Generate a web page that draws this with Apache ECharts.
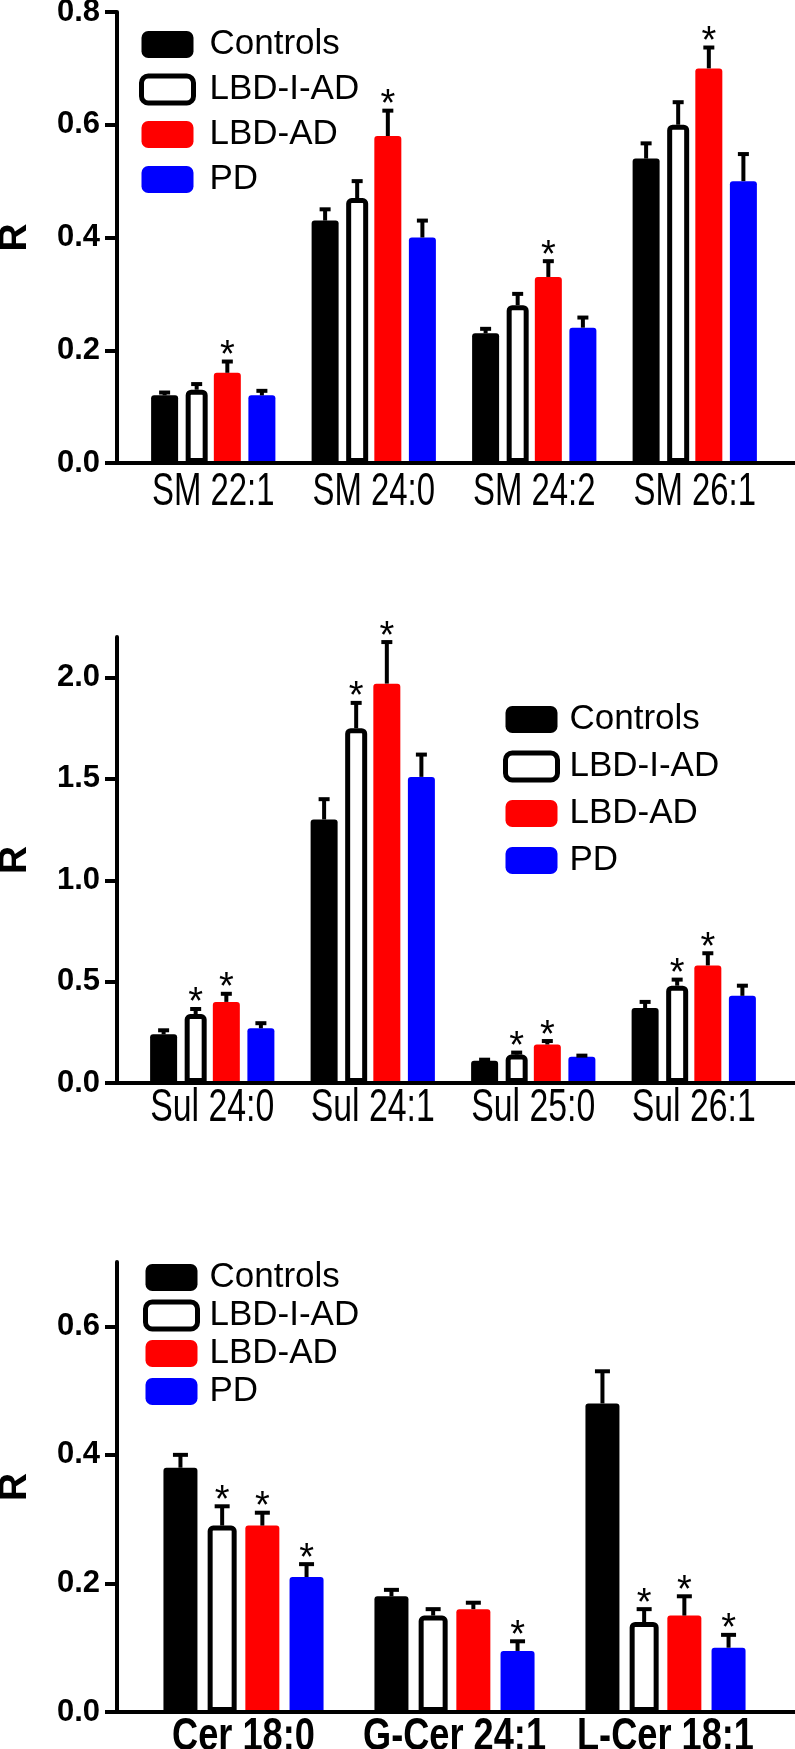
<!DOCTYPE html>
<html><head><meta charset="utf-8">
<script src="https://cdn.jsdelivr.net/npm/echarts@6/dist/echarts.min.js"></script>
<style>html,body{margin:0;padding:0;background:#fff}#c{width:795px;height:1749px}</style>
</head><body><div id="c"></div><script>
// ---------- data ----------
const groups = ['Controls', 'LBD-I-AD', 'LBD-AD', 'PD'];

const smCats = ['SM 22:1', 'SM 24:0', 'SM 24:2', 'SM 26:1'];
const smControls = [0.12, 0.43, 0.23, 0.54];
const smLbdIAd = [0.13, 0.47, 0.28, 0.60];
const smLbdAd = [0.16, 0.58, 0.33, 0.70];
const smPd = [0.12, 0.40, 0.24, 0.50];
const smControlsErr = [0.005, 0.02, 0.008, 0.027];
const smLbdIAdErr = [0.01, 0.03, 0.02, 0.04];
const smLbdAdErr = [0.02, 0.045, 0.028, 0.037];
const smPdErr = [0.008, 0.03, 0.018, 0.048];
const smControlsSig = [0, 0, 0, 0];
const smLbdIAdSig = [0, 0, 0, 0];
const smLbdAdSig = [1, 1, 1, 1];
const smPdSig = [0, 0, 0, 0];
const smTicks = [0, 0.2, 0.4, 0.6, 0.8];

const sulCats = ['Sul 24:0', 'Sul 24:1', 'Sul 25:0', 'Sul 26:1'];
const sulControls = [0.24, 1.30, 0.11, 0.37];
const sulLbdIAd = [0.34, 1.75, 0.14, 0.48];
const sulLbdAd = [0.40, 1.97, 0.19, 0.58];
const sulPd = [0.27, 1.51, 0.13, 0.43];
const sulControlsErr = [0.02, 0.10, 0.005, 0.03];
const sulLbdIAdErr = [0.025, 0.125, 0.01, 0.03];
const sulLbdAdErr = [0.04, 0.205, 0.017, 0.06];
const sulPdErr = [0.025, 0.11, 0.005, 0.05];
const sulControlsSig = [0, 0, 0, 0];
const sulLbdIAdSig = [1, 1, 1, 1];
const sulLbdAdSig = [1, 1, 1, 1];
const sulPdSig = [0, 0, 0, 0];
const sulTicks = [0, 0.5, 1.0, 1.5, 2.0];

const cerCats = ['Cer 18:0', 'G-Cer 24:1', 'L-Cer 18:1'];
const cerControls = [0.38, 0.18, 0.48];
const cerLbdIAd = [0.29, 0.15, 0.14];
const cerLbdAd = [0.29, 0.16, 0.15];
const cerPd = [0.21, 0.095, 0.10];
const cerControlsErr = [0.02, 0.01, 0.05];
const cerLbdIAdErr = [0.03, 0.01, 0.02];
const cerLbdAdErr = [0.02, 0.01, 0.03];
const cerPdErr = [0.02, 0.015, 0.02];
const cerControlsSig = [0, 0, 0];
const cerLbdIAdSig = [1, 0, 1];
const cerLbdAdSig = [1, 0, 1];
const cerPdSig = [1, 1, 1];
const cerTicks = [0, 0.2, 0.4, 0.6];

// ---------- layout / style ----------
const fills = ['#000000', '#ffffff', '#ff0000', '#0000ff'];
const AXIS_X = 117;
const FONT = 'Liberation Sans, Arial, Helvetica, sans-serif';

const panels = [
  { cats: smCats, vals: [smControls, smLbdIAd, smLbdAd, smPd],
    errs: [smControlsErr, smLbdIAdErr, smLbdAdErr, smPdErr],
    sigs: [smControlsSig, smLbdIAdSig, smLbdAdSig, smPdSig], ticks: smTicks,
    max: 0.8, interval: 0.2, left: 133, right: 20, top: 12, height: 451,
    bw: 27, gap: 0.28, capW: 11, labelBold: false, labelDy: 6, labelScale: 0.70,
    legend: { left: 139, top: 27, gap: 10, pad: 11 } },
  { cats: sulCats, vals: [sulControls, sulLbdIAd, sulLbdAd, sulPd],
    errs: [sulControlsErr, sulLbdIAdErr, sulLbdAdErr, sulPdErr],
    sigs: [sulControlsSig, sulLbdIAdSig, sulLbdAdSig, sulPdSig], ticks: sulTicks,
    max: 2.2, interval: 0.5, left: 132, right: 21, top: 637, height: 446,
    bw: 27, gap: 0.28, capW: 11, labelBold: false, labelDy: 2, labelScale: 0.72,
    legend: { left: 503, top: 702, gap: 12, pad: 7 } },
  { cats: cerCats, vals: [cerControls, cerLbdIAd, cerLbdAd, cerPd],
    errs: [cerControlsErr, cerLbdIAdErr, cerLbdAdErr, cerPdErr],
    sigs: [cerControlsSig, cerLbdIAdSig, cerLbdAdSig, cerPdSig], ticks: cerTicks,
    max: 0.7, interval: 0.2, left: 138, right: 24, top: 1262, height: 450,
    bw: 34, gap: 0.3, capW: 15, labelBold: true, labelDy: 2, labelScale: 0.77,
    legend: { left: 143, top: 1260, gap: 3, pad: 7 } }
];

function barWidths(p) { return [p.bw, p.bw - 5, p.bw, p.bw]; }
function barOffsets(widths, gapP) {
  let sum = 0;
  widths.forEach(w => { sum += w * (1 + gapP); });
  sum -= widths[widths.length - 1] * gapP;
  let off = -sum / 2;
  return widths.map(w => { const c = off + w / 2; off += w * (1 + gapP); return c; });
}

const grid = [], xAxis = [], yAxis = [], series = [], legend = [], graphic = [];

panels.forEach((p, pi) => {
  grid.push({ left: p.left, right: p.right, top: p.top, height: p.height,
              containLabel: false, outerBoundsMode: 'none' });
  xAxis.push({
    type: 'category', gridIndex: pi, data: p.cats,
    axisLine: { show: false }, axisTick: { show: false }, axisLabel: { show: false }
  });
  yAxis.push({
    type: 'value', gridIndex: pi, min: 0, max: p.max, interval: p.interval,
    offset: p.left - AXIS_X,
    name: 'R', nameLocation: 'middle', nameGap: 82, nameMoveOverlap: false,
    nameTextStyle: { color: '#000', fontSize: 39, fontWeight: 'bold', fontFamily: FONT },
    splitLine: { show: false },
    axisLine: { show: true, lineStyle: { color: '#000', width: 4 } },
    axisTick: { show: true, length: 12, lineStyle: { color: '#000', width: 4 }, customValues: p.ticks },
    axisLabel: {
      color: '#000', fontSize: 31, fontWeight: 'bold', margin: 17, fontFamily: FONT,
      customValues: p.ticks, formatter: v => v.toFixed(1)
    }
  });
  const widths = barWidths(p);
  const offsets = barOffsets(widths, p.gap);
  groups.forEach((g, gi) => {
    const white = gi === 1;
    series.push({
      type: 'bar', name: g, xAxisIndex: pi, yAxisIndex: pi,
      data: p.vals[gi], barWidth: widths[gi], barGap: (p.gap * 100) + '%',
      itemStyle: {
        color: fills[gi], borderColor: white ? '#000' : fills[gi],
        borderWidth: white ? 5 : 0, borderRadius: [3, 3, 0, 0]
      },
      emphasis: { disabled: true }, silent: true, z: 2
    });
  });
  const errData = [];
  groups.forEach((g, gi) => {
    p.cats.forEach((c, ci) => {
      errData.push([ci, p.vals[gi][ci], p.errs[gi][ci], p.sigs[gi][ci], gi]);
    });
  });
  series.push({
    type: 'custom', name: 'err' + pi, xAxisIndex: pi, yAxisIndex: pi,
    data: errData, encode: { x: 0, y: 1 }, clip: false, silent: true, z: 4,
    renderItem: function (params, api) {
      const ci = api.value(0), val = api.value(1), err = api.value(2), sig = api.value(3), gi = api.value(4);
      const base = api.coord([ci, val]);
      const top = api.coord([ci, val + err]);
      const x = base[0] + offsets[gi];
      const ch = [
        { type: 'line', shape: { x1: x, y1: base[1], x2: x, y2: top[1] }, style: { stroke: '#000', lineWidth: 4 } },
        { type: 'line', shape: { x1: x - p.capW / 2, y1: top[1], x2: x + p.capW / 2, y2: top[1] }, style: { stroke: '#000', lineWidth: 4 } }
      ];
      if (sig) {
        ch.push({ type: 'text', x: x, y: top[1] - 5,
          style: { text: '*', fill: '#000', fontSize: 38, fontFamily: FONT,
                   align: 'center', verticalAlign: 'middle' } });
      }
      return { type: 'group', children: ch };
    }
  });
  // category labels (condensed, drawn at category positions from the axis scale)
  series.push({
    type: 'custom', name: 'lab' + pi, xAxisIndex: pi, yAxisIndex: pi,
    data: p.cats.map((c, ci) => [ci, 0]), encode: { x: 0, y: 1 }, clip: false, silent: true, z: 5,
    renderItem: function (params, api) {
      const ci = api.value(0);
      const pt = api.coord([ci, 0]);
      return { type: 'text', x: pt[0], y: pt[1] + p.labelDy, scaleX: p.labelScale,
        style: { text: p.cats[ci], fill: '#000', fontSize: 47, lineHeight: 47, fontFamily: FONT,
                 fontWeight: p.labelBold ? 'bold' : 'normal', align: 'center', verticalAlign: 'top' } };
    }
  });
  legend.push({
    orient: 'vertical', left: p.legend.left, top: p.legend.top, padding: 0,
    itemWidth: 52, itemHeight: 27, itemGap: p.legend.gap, icon: 'roundRect',
    selectedMode: false,
    textStyle: { color: '#000', fontSize: 35, lineHeight: 34, fontFamily: FONT,
                 padding: [0, 0, 0, p.legend.pad] },
    data: groups.map((g, gi) => ({
      name: g,
      itemStyle: { color: fills[gi], borderColor: gi === 1 ? '#000' : fills[gi], borderWidth: gi === 1 ? 5 : 0 }
    }))
  });
  const y0 = p.top + p.height;
  graphic.push({ type: 'line', shape: { x1: AXIS_X - 2, y1: y0, x2: 795, y2: y0 },
                 style: { stroke: '#000', lineWidth: 4 }, z: 10 });
});

const chart = echarts.init(document.getElementById('c'), null, { renderer: 'canvas' });
chart.setOption({
  animation: false, backgroundColor: '#fff',
  grid, xAxis, yAxis, series, legend, graphic
});
</script></body></html>
